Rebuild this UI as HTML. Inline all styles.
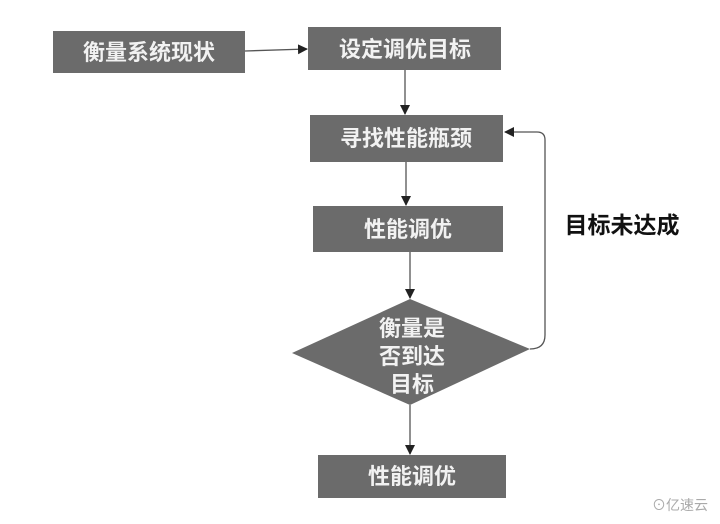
<!DOCTYPE html>
<html><head><meta charset="utf-8"><style>
body{margin:0;background:#fff;}
svg text{font-family:"Liberation Sans","Noto Sans CJK SC",sans-serif;font-size:22px;fill:#f2f2f2;text-anchor:middle;font-weight:bold;}
</style></head><body>
<svg width="720" height="519" viewBox="0 0 720 519" xmlns="http://www.w3.org/2000/svg">
<defs><marker id="a" markerWidth="10" markerHeight="10" refX="9" refY="5" orient="auto" markerUnits="userSpaceOnUse"><path d="M0,0 L10,5 L0,10 z" fill="#222"/></marker></defs>
<g fill="#6b6b6b">
<rect x="53" y="31" width="192" height="42"/>
<rect x="308" y="27" width="193" height="43"/>
<rect x="310" y="115" width="193" height="47"/>
<rect x="313" y="206" width="190" height="46"/>
<polygon points="410,299 530,349 410,405 292,353"/>
<rect x="318" y="455" width="188" height="43"/>
</g>
<g stroke="#555" stroke-width="1.3" fill="none">
<line x1="245" y1="51" x2="307" y2="49" marker-end="url(#a)"/>
<line x1="405" y1="70" x2="405" y2="114" marker-end="url(#a)"/>
<line x1="406" y1="162" x2="406" y2="205" marker-end="url(#a)"/>
<line x1="410" y1="252" x2="410" y2="298" marker-end="url(#a)"/>
<line x1="410" y1="405" x2="410" y2="454" marker-end="url(#a)"/>
<path d="M530,349 Q545,349 545,335 L545,140 Q545,132 537,132 L505,132" marker-end="url(#a)"/>
</g>
<text x="149" y="60">衡量系统现状</text>
<text x="405" y="57">设定调优目标</text>
<text x="406" y="146">寻找性能瓶颈</text>
<text x="408" y="237">性能调优</text>
<text x="412" y="336">衡量是</text>
<text x="412" y="364">否到达</text>
<text x="412" y="392">目标</text>
<text x="412" y="484">性能调优</text>
<text x="622" y="233" style="fill:#111;font-size:23px">目标未达成</text>
<text x="680" y="510" style="fill:#aaa;font-size:14px;font-weight:normal">⊙亿速云</text>
</svg>
</body></html>
